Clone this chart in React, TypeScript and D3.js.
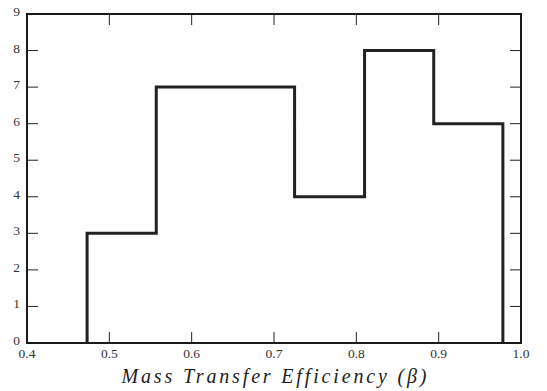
import React from "react";
import * as d3 from "d3";

const binEdges = [0.473, 0.557, 0.641, 0.725, 0.81, 0.894, 0.978];
const counts = [3, 7, 7, 4, 8, 6];
const xTicks = [0.4, 0.5, 0.6, 0.7, 0.8, 0.9, 1.0];
const yTicks = [0, 1, 2, 3, 4, 5, 6, 7, 8, 9];
const xLabel = "Mass Transfer Efficiency (β)";

const W = 547, H = 391;
const m = { left: 27, right: 26, top: 14, bottom: 48 };

export default function App() {
  const x = d3.scaleLinear().domain([0.4, 1.0]).range([m.left, W - m.right]);
  const y = d3.scaleLinear().domain([0, 9]).range([H - m.bottom, m.top]);

  const pts: [number, number][] = [[binEdges[0], 0]];
  counts.forEach((c, i) => {
    pts.push([binEdges[i], c]);
    pts.push([binEdges[i + 1], c]);
  });
  pts.push([binEdges[binEdges.length - 1], 0]);
  const line = d3.line<[number, number]>().x(d => x(d[0])).y(d => y(d[1]));

  const tickLen = 11;
  const font = "'Liberation Serif', serif";
  return (
    <svg width={W} height={H} style={{ position: "absolute", left: 0, top: 0 }}>
      <rect width={W} height={H} fill="#fff" />
      <path d={line(pts) || ""} fill="none" stroke="#222" strokeWidth={3} strokeLinejoin="miter" strokeLinecap="butt" />
      {xTicks.map(t => (
        <g key={"x" + t}>
          <line x1={x(t)} x2={x(t)} y1={y(0)} y2={y(0) - tickLen} stroke="#222" strokeWidth={1} />
          <line x1={x(t)} x2={x(t)} y1={y(9)} y2={y(9) + tickLen} stroke="#222" strokeWidth={1} />
          <text x={x(t)} y={358} textAnchor="middle" fontFamily={font} fontSize={13.5} fill="#333">{t.toFixed(1)}</text>
        </g>
      ))}
      {yTicks.map(t => (
        <g key={"y" + t}>
          <line x1={x(0.4)} x2={x(0.4) + tickLen} y1={y(t)} y2={y(t)} stroke="#222" strokeWidth={1} />
          <line x1={x(1.0)} x2={x(1.0) - tickLen} y1={y(t)} y2={y(t)} stroke="#222" strokeWidth={1} />
          <text x={20} y={y(t) + 2} textAnchor="end" fontFamily={font} fontSize={13.5} fill="#333">{t}</text>
        </g>
      ))}
      <rect x={x(0.4)} y={y(9)} width={x(1.0) - x(0.4)} height={y(0) - y(9)} fill="none" stroke="#1a1a1a" strokeWidth={2} />
      <text x={(x(0.4) + x(1.0)) / 2} y={383} textAnchor="middle" fontFamily={font} fontStyle="italic" fontSize={20} fill="#222" textLength={305} lengthAdjust="spacing">{xLabel}</text>
    </svg>
  );
}
